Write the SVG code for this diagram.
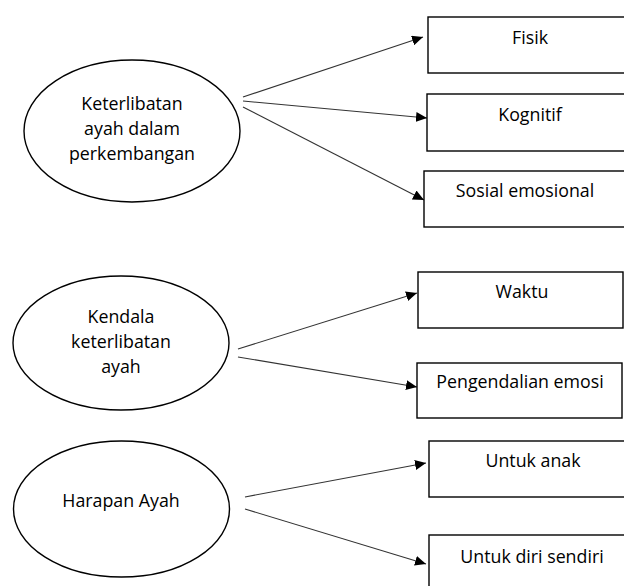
<svg xmlns="http://www.w3.org/2000/svg" width="624" height="586" viewBox="0 0 624 586">
<defs>
<style>
.n ellipse{fill:#fff;stroke:#000;stroke-width:1.4}
.n rect{fill:#fff;stroke:#000;stroke-width:1.4}
.n text{font-family:"Open Sans","Liberation Sans",sans-serif;font-size:17.8px;fill:#000;text-anchor:middle}
.c line{stroke:#333;stroke-width:1.1;marker-end:url(#ah)}
</style>
<marker id="ah" markerUnits="userSpaceOnUse" markerWidth="12" markerHeight="10" refX="11" refY="5" orient="auto">
<path d="M0,0 L11,5 L0,10 Z" fill="#000"/>
</marker>
</defs>
<rect width="624" height="586" fill="#fff"/>
<g class="c" id="connectors">
<line x1="243" y1="97" x2="423" y2="37"/>
<line x1="243" y1="101" x2="427" y2="118"/>
<line x1="243" y1="107" x2="424" y2="200"/>
<line x1="238" y1="349" x2="417" y2="293"/>
<line x1="238" y1="357" x2="417" y2="387"/>
<line x1="245" y1="497" x2="426" y2="463"/>
<line x1="245" y1="509" x2="426" y2="564"/>
</g>
<g class="n" id="keterlibatan">
<ellipse cx="132" cy="131" rx="108" ry="71"/>
<text x="132" y="110">Keterlibatan</text>
<text x="132" y="135">ayah dalam</text>
<text x="132" y="160">perkembangan</text>
</g>
<g class="n" id="fisik">
<rect x="428" y="17" width="200" height="56"/>
<text x="530" y="44">Fisik</text>
</g>
<g class="n" id="kognitif">
<rect x="427" y="94" width="200" height="57"/>
<text x="530" y="121">Kognitif</text>
</g>
<g class="n" id="sosial">
<rect x="424" y="171" width="204" height="56"/>
<text x="525" y="197">Sosial emosional</text>
</g>
<g class="n" id="kendala">
<ellipse cx="121" cy="343" rx="108" ry="67"/>
<text x="121" y="323">Kendala</text>
<text x="121" y="348">keterlibatan</text>
<text x="121" y="373">ayah</text>
</g>
<g class="n" id="waktu">
<rect x="418" y="272" width="205" height="56"/>
<text x="522" y="298">Waktu</text>
</g>
<g class="n" id="pengendalian">
<rect x="417" y="363" width="205" height="55"/>
<text x="520" y="388">Pengendalian emosi</text>
</g>
<g class="n" id="harapan">
<ellipse cx="121.5" cy="509" rx="108" ry="68"/>
<text x="121" y="507">Harapan Ayah</text>
</g>
<g class="n" id="untukanak">
<rect x="429" y="441" width="200" height="56"/>
<text x="533" y="467">Untuk anak</text>
</g>
<g class="n" id="untukdiri">
<rect x="429" y="535" width="200" height="60"/>
<text x="532" y="563">Untuk diri sendiri</text>
</g>
</svg>
